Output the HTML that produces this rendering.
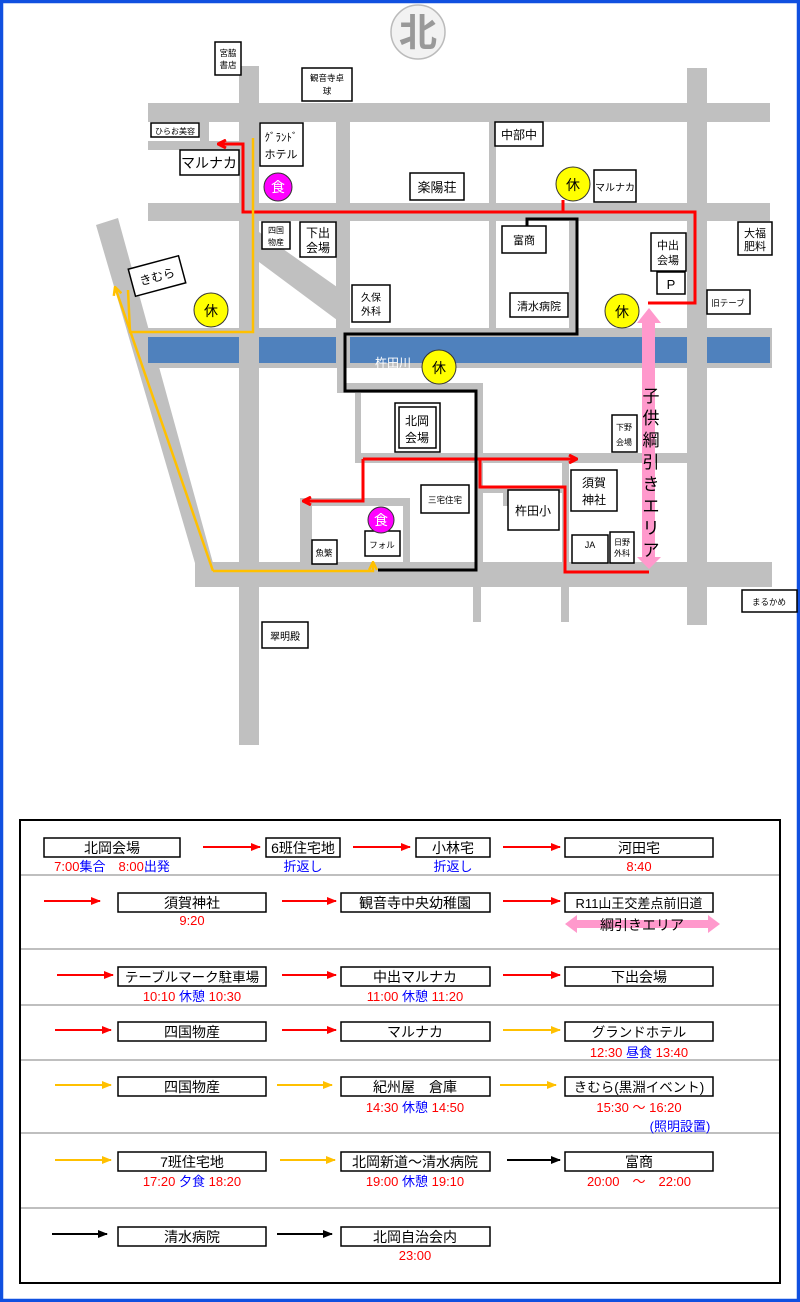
<!DOCTYPE html>
<html><head><meta charset="utf-8"><style>
html,body{margin:0;padding:0;background:#fff}
svg{display:block}
text{font-family:"Liberation Sans","Noto Sans CJK JP",sans-serif}
</style></head><body>
<svg width="800" height="1302" viewBox="0 0 800 1302" xmlns="http://www.w3.org/2000/svg">
<defs>
<marker id="ar" markerWidth="10" markerHeight="10" refX="9" refY="5" orient="auto" markerUnits="userSpaceOnUse"><path d="M1,1 L9,5 L1,9" fill="none" stroke="#f00" stroke-width="3"/></marker>
<marker id="ay" markerWidth="10" markerHeight="10" refX="9" refY="5" orient="auto" markerUnits="userSpaceOnUse"><path d="M1,1 L9,5 L1,9" fill="none" stroke="#ffc000" stroke-width="2.5"/></marker>
<marker id="tr" markerWidth="10" markerHeight="10" refX="9" refY="5" orient="auto" markerUnits="userSpaceOnUse"><path d="M0,1 L10,5 L0,9z" fill="#f00"/></marker>
<marker id="ty" markerWidth="10" markerHeight="10" refX="9" refY="5" orient="auto" markerUnits="userSpaceOnUse"><path d="M0,1 L10,5 L0,9z" fill="#ffc000"/></marker>
<marker id="tk" markerWidth="10" markerHeight="10" refX="9" refY="5" orient="auto" markerUnits="userSpaceOnUse"><path d="M0,1 L10,5 L0,9z" fill="#000"/></marker>
</defs>
<rect x="0" y="0" width="800" height="1302" fill="#fff"/>
<rect x="1.5" y="1.5" width="797" height="1299" fill="none" stroke="#1050e0" stroke-width="3.5"/>

<!-- logo -->
<circle cx="418" cy="32" r="27" fill="#f2f2f2" stroke="#bbb" stroke-width="1.5"/>
<text x="418" y="46" font-size="38" font-weight="bold" fill="#999" text-anchor="middle">北</text>

<!-- roads -->
<g fill="#c0c0c0">
<rect x="148" y="103" width="622" height="19"/>
<rect x="239" y="66" width="20" height="679"/>
<rect x="148" y="203" width="622" height="18"/>
<rect x="148" y="328" width="624" height="40"/>
<rect x="336" y="122" width="14" height="206"/>
<rect x="489" y="122" width="7" height="206"/>
<rect x="569" y="221" width="7" height="107"/>
<rect x="687" y="68" width="20" height="557"/>
<rect x="148" y="141" width="91" height="9"/>
<rect x="200" y="122" width="9" height="19"/>
<polygon points="259,232 337,287 337,320 259,262"/>
<polygon points="96,225 118,218 213,563 202,587"/>
<rect x="195" y="562" width="577" height="25"/>
<rect x="337" y="368" width="8" height="25"/>
<rect x="337" y="383" width="146" height="10"/>
<rect x="355" y="383" width="6" height="80"/>
<rect x="476" y="383" width="7" height="180"/>
<rect x="355" y="453" width="332" height="10"/>
<rect x="483" y="486" width="82" height="7"/>
<rect x="562" y="463" width="7" height="100"/>
<rect x="503" y="490" width="5" height="16"/>
<rect x="300" y="498" width="110" height="8"/>
<rect x="300" y="498" width="12" height="65"/>
<rect x="403" y="498" width="7" height="65"/>
<rect x="473" y="587" width="8" height="35"/>
<rect x="561" y="587" width="8" height="35"/>
</g>
<!-- river -->
<g fill="#4f81bd">
<rect x="148" y="337" width="91" height="26"/>
<rect x="259" y="337" width="77" height="26"/>
<rect x="350" y="337" width="337" height="26"/>
<rect x="707" y="337" width="63" height="26"/>
</g>
<text x="375" y="367" font-size="12" fill="#fff">杵田川</text>

<!-- pink arrow -->
<polygon points="649,308 661,323 655,323 655,557 661,557 649,569 637,557 642,557 642,323 637,323" fill="#ff99cc"/>
<g font-size="17" text-anchor="middle" fill="#000">
<text x="651" y="402">子</text><text x="651" y="424">供</text><text x="651" y="446">綱</text><text x="651" y="468">引</text><text x="651" y="490">き</text><text x="651" y="512">エ</text><text x="651" y="534">リ</text><text x="651" y="556">ア</text>
</g>

<!-- routes -->
<g fill="none" stroke-linejoin="miter">
<polyline points="648,303 695,303 695,212 243,212 243,144 218,144" stroke="#f00" stroke-width="3" marker-end="url(#ar)"/>
<line x1="563" y1="200" x2="563" y2="212" stroke="#f00" stroke-width="3"/>
<polyline points="649,572 565,572 565,487 480,487 480,459" stroke="#f00" stroke-width="3"/>
<polyline points="363,459 577,459" stroke="#f00" stroke-width="3" marker-end="url(#ar)"/>
<polyline points="363,459 363,501 303,501" stroke="#f00" stroke-width="3" marker-end="url(#ar)"/>
<polyline points="527,226 527,219 577,219 577,334 345,334 345,391 476,391 476,570 378,570" stroke="#000" stroke-width="3"/>
<polyline points="253,138 253,332 130,332 128,290" stroke="#ffc000" stroke-width="2.5"/>
<polyline points="213,571 115,287" stroke="#ffc000" stroke-width="2.5" marker-end="url(#ay)"/>
<polyline points="213,571 373,571 373,562" stroke="#ffc000" stroke-width="2.5" marker-end="url(#ay)"/>
</g>

<!-- labels -->
<g fill="#fff" stroke="#000" stroke-width="1.5">
<rect x="215" y="42" width="26" height="33"/>
<rect x="302" y="68" width="50" height="33"/>
<rect x="151" y="123" width="48" height="14"/>
<rect x="180" y="150" width="59" height="25"/>
<rect x="260" y="123" width="43" height="43"/>
<rect x="262" y="222" width="28" height="27"/>
<rect x="300" y="222" width="36" height="35"/>
<rect x="352" y="285" width="38" height="37"/>
<rect x="410" y="173" width="54" height="27"/>
<rect x="495" y="122" width="48" height="24"/>
<rect x="594" y="170" width="42" height="32"/>
<rect x="502" y="226" width="44" height="27"/>
<rect x="510" y="293" width="58" height="24"/>
<rect x="651" y="233" width="35" height="38"/>
<rect x="657" y="272" width="28" height="22"/>
<rect x="738" y="222" width="34" height="33"/>
<rect x="707" y="290" width="43" height="24"/>
<rect x="395" y="403" width="45" height="49"/>
<rect x="399" y="407" width="37" height="41"/>
<rect x="612" y="415" width="25" height="37"/>
<rect x="571" y="470" width="46" height="41"/>
<rect x="508" y="490" width="51" height="40"/>
<rect x="421" y="485" width="48" height="28"/>
<rect x="365" y="531" width="35" height="25"/>
<rect x="312" y="540" width="25" height="24"/>
<rect x="572" y="535" width="36" height="28"/>
<rect x="610" y="532" width="24" height="31"/>
<rect x="262" y="622" width="46" height="26"/>
<rect x="742" y="590" width="55" height="22"/>
<rect x="131" y="262" width="52" height="28" transform="rotate(-15 157 276)"/>
</g>
<g fill="#000" text-anchor="middle" font-size="8.5">
<text x="228" y="56">宮脇</text><text x="228" y="68">書店</text>
<text x="327" y="81">観音寺卓</text><text x="327" y="94">球</text>
<text x="175" y="134" font-size="8">ひらお美容</text>
<text x="209" y="168" font-size="14">マルナカ</text>
<text x="281" y="141" font-size="11">ｸﾞﾗﾝﾄﾞ</text><text x="281" y="158" font-size="11">ホテル</text>
<text x="276" y="233" font-size="8">四国</text><text x="276" y="245" font-size="8">物産</text>
<text x="318" y="237" font-size="12">下出</text><text x="318" y="252" font-size="12">会場</text>
<text x="371" y="301" font-size="10">久保</text><text x="371" y="315" font-size="10">外科</text>
<text x="437" y="192" font-size="13">楽陽荘</text>
<text x="519" y="139" font-size="12">中部中</text>
<text x="615" y="191" font-size="10">マルナカ</text>
<text x="524" y="244" font-size="11">富商</text>
<text x="539" y="310" font-size="11">清水病院</text>
<text x="668" y="249" font-size="11">中出</text><text x="668" y="264" font-size="11">会場</text>
<text x="671" y="289" font-size="13">P</text>
<text x="755" y="237" font-size="11">大福</text><text x="755" y="250" font-size="11">肥料</text>
<text x="728" y="306" font-size="8.5">旧テーブ</text>
<text x="417" y="425" font-size="12">北岡</text><text x="417" y="442" font-size="12">会場</text>
<text x="624" y="430" font-size="8">下野</text><text x="624" y="445" font-size="8">会場</text>
<text x="594" y="487" font-size="12">須賀</text><text x="594" y="504" font-size="12">神社</text>
<text x="533" y="515" font-size="12">杵田小</text>
<text x="445" y="503" font-size="8.5">三宅住宅</text>
<text x="382" y="548" font-size="8.5">フォル</text>
<text x="324" y="556" font-size="8.5">魚繁</text>
<text x="590" y="548" font-size="9">JA</text>
<text x="622" y="545" font-size="8">日野</text><text x="622" y="556" font-size="8">外科</text>
<text x="285" y="640" font-size="10">翠明殿</text>
<text x="769" y="605" font-size="8.5">まるかめ</text>
<text x="157" y="281" font-size="12" transform="rotate(-15 157 276)">きむら</text>
</g>
<!-- circles -->
<g stroke="#333" stroke-width="1">
<circle cx="278" cy="187" r="14" fill="#ff00ff"/>
<circle cx="381" cy="520" r="13" fill="#ff00ff"/>
<circle cx="211" cy="310" r="17" fill="#ffff00"/>
<circle cx="573" cy="184" r="17" fill="#ffff00"/>
<circle cx="622" cy="311" r="17" fill="#ffff00"/>
<circle cx="439" cy="367" r="17" fill="#ffff00"/>
</g>
<g text-anchor="middle" font-size="14">
<text x="278" y="192" fill="#fff">食</text>
<text x="381" y="525" fill="#fff">食</text>
<text x="211" y="316">休</text><text x="573" y="190">休</text><text x="622" y="317">休</text><text x="439" y="373">休</text>
</g>

<!-- table -->
<rect x="20" y="820" width="760" height="463" fill="none" stroke="#000" stroke-width="2"/>
<g stroke="#aaa" stroke-width="1.5">
<line x1="21" y1="875" x2="779" y2="875"/><line x1="21" y1="949" x2="779" y2="949"/>
<line x1="21" y1="1005" x2="779" y2="1005"/><line x1="21" y1="1060" x2="779" y2="1060"/>
<line x1="21" y1="1133" x2="779" y2="1133"/><line x1="21" y1="1208" x2="779" y2="1208"/>
</g>
<g fill="#fff" stroke="#000" stroke-width="1.5">
<rect x="44" y="838" width="136" height="19"/><rect x="266" y="838" width="74" height="19"/><rect x="416" y="838" width="74" height="19"/><rect x="565" y="838" width="148" height="19"/>
<rect x="118" y="893" width="148" height="19"/><rect x="341" y="893" width="149" height="19"/><rect x="565" y="893" width="148" height="19"/>
<rect x="118" y="967" width="148" height="19"/><rect x="341" y="967" width="149" height="19"/><rect x="565" y="967" width="148" height="19"/>
<rect x="118" y="1022" width="148" height="19"/><rect x="341" y="1022" width="149" height="19"/><rect x="565" y="1022" width="148" height="19"/>
<rect x="118" y="1077" width="148" height="19"/><rect x="341" y="1077" width="149" height="19"/><rect x="565" y="1077" width="148" height="19"/>
<rect x="118" y="1152" width="148" height="19"/><rect x="341" y="1152" width="149" height="19"/><rect x="565" y="1152" width="148" height="19"/>
<rect x="118" y="1227" width="148" height="19"/><rect x="341" y="1227" width="149" height="19"/>
</g>
<g stroke-width="2">
<line x1="203" y1="847" x2="260" y2="847" stroke="#f00" marker-end="url(#tr)"/>
<line x1="353" y1="847" x2="410" y2="847" stroke="#f00" marker-end="url(#tr)"/>
<line x1="503" y1="847" x2="560" y2="847" stroke="#f00" marker-end="url(#tr)"/>
<line x1="44" y1="901" x2="100" y2="901" stroke="#f00" marker-end="url(#tr)"/>
<line x1="282" y1="901" x2="336" y2="901" stroke="#f00" marker-end="url(#tr)"/>
<line x1="503" y1="901" x2="560" y2="901" stroke="#f00" marker-end="url(#tr)"/>
<line x1="57" y1="975" x2="113" y2="975" stroke="#f00" marker-end="url(#tr)"/>
<line x1="282" y1="975" x2="336" y2="975" stroke="#f00" marker-end="url(#tr)"/>
<line x1="503" y1="975" x2="560" y2="975" stroke="#f00" marker-end="url(#tr)"/>
<line x1="55" y1="1030" x2="111" y2="1030" stroke="#f00" marker-end="url(#tr)"/>
<line x1="282" y1="1030" x2="336" y2="1030" stroke="#f00" marker-end="url(#tr)"/>
<line x1="503" y1="1030" x2="560" y2="1030" stroke="#ffc000" marker-end="url(#ty)"/>
<line x1="55" y1="1085" x2="111" y2="1085" stroke="#ffc000" marker-end="url(#ty)"/>
<line x1="277" y1="1085" x2="332" y2="1085" stroke="#ffc000" marker-end="url(#ty)"/>
<line x1="500" y1="1085" x2="556" y2="1085" stroke="#ffc000" marker-end="url(#ty)"/>
<line x1="55" y1="1160" x2="111" y2="1160" stroke="#ffc000" marker-end="url(#ty)"/>
<line x1="280" y1="1160" x2="335" y2="1160" stroke="#ffc000" marker-end="url(#ty)"/>
<line x1="507" y1="1160" x2="560" y2="1160" stroke="#000" marker-end="url(#tk)"/>
<line x1="52" y1="1234" x2="107" y2="1234" stroke="#000" marker-end="url(#tk)"/>
<line x1="277" y1="1234" x2="332" y2="1234" stroke="#000" marker-end="url(#tk)"/>
</g>
<polygon points="565,924 577,915 577,920 708,920 708,915 720,924 708,933 708,928 577,928 577,933" fill="#ff99cc"/>
<g font-size="14" text-anchor="middle" fill="#000">
<text x="112" y="853">北岡会場</text><text x="303" y="853">6班住宅地</text><text x="453" y="853">小林宅</text><text x="639" y="853">河田宅</text>
<text x="192" y="908">須賀神社</text><text x="415" y="908">観音寺中央幼稚園</text><text x="639" y="908" font-size="13">R11山王交差点前旧道</text>
<text x="642" y="930">綱引きエリア</text>
<text x="192" y="982" font-size="13.5">テーブルマーク駐車場</text><text x="415" y="982">中出マルナカ</text><text x="639" y="982">下出会場</text>
<text x="192" y="1037">四国物産</text><text x="415" y="1037">マルナカ</text><text x="639" y="1037" font-size="13.5">グランドホテル</text>
<text x="192" y="1092">四国物産</text><text x="415" y="1092">紀州屋　倉庫</text><text x="639" y="1092" font-size="13.5">きむら(黒淵イベント)</text>
<text x="192" y="1167">7班住宅地</text><text x="415" y="1167">北岡新道～清水病院</text><text x="639" y="1167">富商</text>
<text x="192" y="1242">清水病院</text><text x="415" y="1242">北岡自治会内</text>
</g>
<g font-size="13" text-anchor="middle" fill="#f00">
<text x="112" y="871">7:00<tspan fill="#00f">集合</tspan>　8:00<tspan fill="#00f">出発</tspan></text>
<text x="303" y="871" fill="#00f">折返し</text><text x="453" y="871" fill="#00f">折返し</text>
<text x="639" y="871">8:40</text>
<text x="192" y="925">9:20</text>
<text x="192" y="1001">10:10 <tspan fill="#00f">休憩</tspan> 10:30</text>
<text x="415" y="1001">11:00 <tspan fill="#00f">休憩</tspan> 11:20</text>
<text x="639" y="1057">12:30 <tspan fill="#00f">昼食</tspan> 13:40</text>
<text x="415" y="1112">14:30 <tspan fill="#00f">休憩</tspan> 14:50</text>
<text x="639" y="1112">15:30 ～ 16:20</text>
<text x="680" y="1131" fill="#00f">(照明設置)</text>
<text x="192" y="1186">17:20 <tspan fill="#00f">夕食</tspan> 18:20</text>
<text x="415" y="1186">19:00 <tspan fill="#00f">休憩</tspan> 19:10</text>
<text x="639" y="1186">20:00　～　22:00</text>
<text x="415" y="1260">23:00</text>
</g>
</svg>
</body></html>
